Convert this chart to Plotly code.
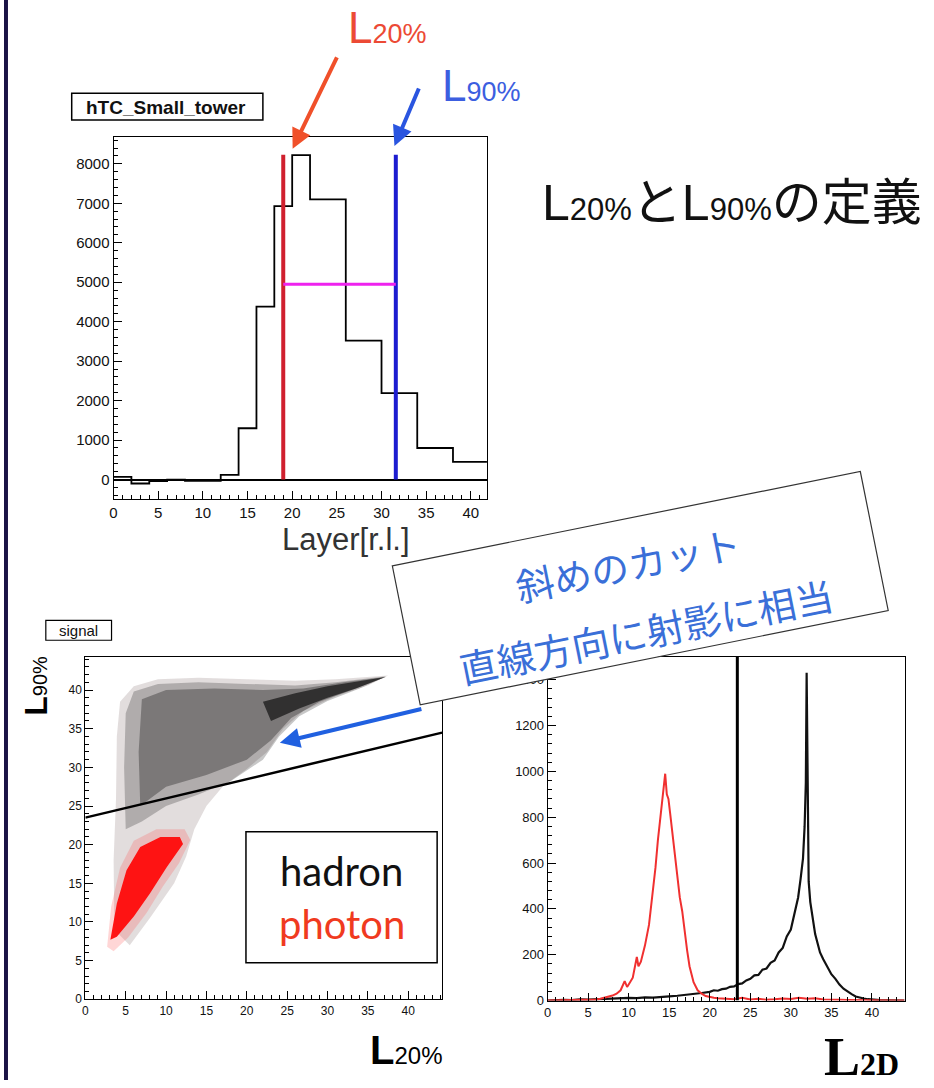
import plotly.graph_objects as go

W, H = 934, 1088
def px(x): return x / W
def py(y): return 1 - y / H

# ---------------- data: longitudinal profile (top) ----------------
layer_edges = [0, 2, 4, 6, 8, 10, 12, 14, 16, 18, 20, 22, 26, 30, 34, 38, 42]
layer_counts = [70, -100, -40, -5, -30, -30, 120, 1300, 4380, 6930, 8220, 7100, 3520, 2190, 800, 450]
L20_value = 19.0
L90_value = 31.6
half_level = 4950
marker_top = 8230

# ---------------- data: L20 vs L90 scatter regions (bottom left) ----------------
cut_x = [0, 44.2]
cut_y = [23.5, 34.5]

hadron_sparse_x = [3.6, 3.5, 3.8, 3.9, 4.3, 6, 9, 14, 20, 26, 31, 37.5, 35, 31, 27, 24.5, 22.5, 20, 17, 15, 13.5, 12.5, 11, 8, 5.5]
hadron_sparse_y = [9, 18, 26, 34, 38.5, 40.5, 41.4, 41.6, 41.4, 41.2, 41.4, 41.9, 40.6, 39.2, 37.3, 35, 32, 29.8, 27.5, 25, 22, 18.5, 15, 10.5, 7]
hadron_mid_x = [5, 4.8, 5, 6, 9, 14, 20, 26, 31, 37.3, 34, 30, 26.5, 24, 22, 18, 14, 10, 7]
hadron_mid_y = [22, 30, 37, 39.8, 40.8, 41.0, 40.8, 40.6, 41.0, 41.8, 40.2, 38.6, 36.6, 34, 31, 28.2, 26.5, 25, 23]
hadron_core_x = [6.8, 6.6, 7, 10, 16, 22, 27, 32, 37.2, 33, 29, 25.5, 23, 20, 15, 10]
hadron_core_y = [25, 32, 38.8, 40, 40.2, 40, 40.2, 41, 41.7, 40, 38.5, 36.4, 33.5, 31, 29, 27.5]
hadron_tail_x = [22, 26, 30, 34, 37.2, 33.5, 30, 26.5, 23]
hadron_tail_y = [38.5, 39.6, 40.5, 41.2, 41.7, 40.2, 39, 37.6, 36]
photon_halo_x = [2.7, 3.2, 4.3, 6, 8.8, 12.3, 13, 11.6, 9.6, 7.6, 5.3, 3.5]
photon_halo_y = [6.8, 12, 17, 20.5, 22, 22, 20.6, 17.6, 14.6, 11.2, 8, 6.2]
photon_core_x = [3.1, 3.9, 5.1, 6.8, 9.3, 11.7, 12.1, 10.1, 8, 6, 3.9]
photon_core_y = [7.7, 12.4, 16.7, 19.7, 21, 21, 20.1, 17.1, 13.7, 10.7, 8.1]

# ---------------- data: L2D distributions (bottom right) ----------------
hadron_l2d_x = [0, 1, 2, 3, 4, 5, 6, 7, 8, 9, 10, 11, 12, 13, 14, 15, 16, 17, 18, 19, 20, 20.5, 21, 21.5, 22,
                22.5, 23, 23.5, 24, 24.5, 25, 25.5, 26, 26.5, 27, 27.5, 28, 28.5, 29, 29.5, 30, 30.3, 30.6,
                30.9, 31.2, 31.5, 31.7, 31.85, 31.95, 32.05, 32.2, 32.4, 32.7, 33, 33.3, 33.6, 34, 34.5, 35,
                35.5, 36, 36.5, 37, 37.5, 38, 38.5, 39, 39.5, 40, 41, 42, 43, 44]
hadron_l2d_y = [0, 2, 3, 2, 5, 4, 6, 8, 7, 10, 12, 11, 14, 13, 17, 18, 21, 24, 27, 33, 38, 45, 43, 50, 52,
                60, 62, 72, 75, 88, 95, 110, 112, 135, 140, 165, 175, 210, 230, 280, 310, 360, 400,
                450, 530, 620, 760, 950, 1430, 1000, 520, 430, 350, 290, 250, 210, 180, 150, 115,
                95, 70, 52, 38, 28, 18, 12, 9, 6, 4, 2, 1, 0, 0]
photon_l2d_x = [0, 1, 2, 3, 4, 5, 6, 6.5, 7, 7.5, 8, 8.5, 9, 9.5, 9.8, 10, 10.5, 11, 11.2, 11.5, 12, 12.5,
                13, 13.3, 13.6, 13.9, 14.2, 14.5, 14.7, 14.9, 15.1, 15.4, 15.7, 16, 16.3, 16.6, 16.9,
                17.2, 17.5, 17.8, 18, 18.5, 19, 19.5, 20, 20.5, 21, 22, 23, 24, 25, 26, 27, 28, 29, 30,
                31, 32, 33, 34, 35, 36, 37, 38, 39, 40, 41, 42, 43, 44]
photon_l2d_y = [0, 1, 0, 2, 1, 3, 5, 8, 12, 15, 22, 30, 45, 85, 60, 70, 100, 190, 150, 170, 240, 330,
                480, 580, 700, 790, 880, 990, 900, 880, 820, 720, 620, 550, 450, 390, 300,
                220, 150, 100, 80, 45, 30, 20, 15, 12, 10, 8, 6, 12, 5, 8, 4, 6, 9, 7,
                12, 8, 10, 5, 6, 4, 3, 2, 1, 1, 0, 0, 0, 0]
L2D_cut = 23.4

# ---------------- figure ----------------
fig = go.Figure()

# top histogram
fig.add_trace(go.Scatter(x=layer_edges, y=layer_counts + [layer_counts[-1]], mode="lines",
                         line=dict(shape="hv", color="black", width=1.8), xaxis="x", yaxis="y"))
fig.add_trace(go.Scatter(x=[L20_value, L20_value], y=[0, marker_top], mode="lines",
                         line=dict(color="#d0202e", width=4), xaxis="x", yaxis="y"))
fig.add_trace(go.Scatter(x=[L90_value, L90_value], y=[0, marker_top], mode="lines",
                         line=dict(color="#1c1cd0", width=4), xaxis="x", yaxis="y"))
fig.add_trace(go.Scatter(x=[L20_value, L90_value], y=[half_level, half_level], mode="lines",
                         line=dict(color="#ee22ee", width=3), xaxis="x", yaxis="y"))

# scatter regions
def region(xs, ys, color):
    fig.add_trace(go.Scatter(x=xs + [xs[0]], y=ys + [ys[0]], mode="lines", fill="toself",
                             fillcolor=color, line=dict(width=0), xaxis="x2", yaxis="y2",
                             hoverinfo="skip"))

region(hadron_sparse_x, hadron_sparse_y, "rgba(60,30,30,0.15)")
region(hadron_mid_x, hadron_mid_y, "rgba(0,0,0,0.22)")
region(hadron_core_x, hadron_core_y, "rgba(0,0,0,0.30)")
region(hadron_tail_x, hadron_tail_y, "rgba(0,0,0,0.60)")
region(photon_halo_x, photon_halo_y, "rgba(255,70,70,0.22)")
region(photon_core_x, photon_core_y, "rgba(255,10,10,0.95)")
fig.add_trace(go.Scatter(x=cut_x, y=cut_y, mode="lines", line=dict(color="black", width=2.5),
                         xaxis="x2", yaxis="y2"))

# L2D histograms
fig.add_trace(go.Scatter(x=hadron_l2d_x, y=hadron_l2d_y, mode="lines",
                         line=dict(color="#111111", width=2.2), xaxis="x3", yaxis="y3"))
fig.add_trace(go.Scatter(x=photon_l2d_x, y=photon_l2d_y, mode="lines",
                         line=dict(color="#f03030", width=2.0), xaxis="x3", yaxis="y3"))
fig.add_trace(go.Scatter(x=[L2D_cut, L2D_cut], y=[0, 1500], mode="lines",
                         line=dict(color="black", width=3), xaxis="x3", yaxis="y3"))

tickfont = lambda s: dict(family="Liberation Sans, Arial", size=s, color="#111")

def ax(domain, rng, dtick, minor, fs, anchor):
    return dict(domain=domain, range=rng, dtick=dtick, tick0=0, ticks="inside", ticklen=8,
                tickcolor="black", showline=True, linecolor="black", linewidth=1, mirror=True,
                showgrid=False, zeroline=False, tickfont=tickfont(fs), anchor=anchor,
                minor=dict(dtick=minor, ticks="inside", ticklen=4, tickcolor="black"))

fig.update_layout(
    width=W, height=H, margin=dict(l=0, r=0, t=0, b=0),
    paper_bgcolor="white", plot_bgcolor="white", showlegend=False,
    xaxis=ax([px(110), px(485)], [0, 41.8], 5, 1, 15, "y"),
    yaxis=ax([py(503), py(138)], [-500, 8680], 1000, 200, 15, "x"),
    xaxis2=ax([px(81.7), px(440)], [0, 44.2], 5, 1, 12, "y2"),
    yaxis2=ax([py(1006.7), py(661.7)], [0, 44.3], 5, 1, 12, "x2"),
    xaxis3=ax([px(546), px(905)], [0, 44.1], 5, 1, 13, "y3"),
    yaxis3=ax([py(1008), py(661.7)], [0, 1500], 200, 40, 13, "x3"),
)
fig.layout.yaxis.zeroline = True
fig.layout.yaxis.zerolinecolor = "black"
fig.layout.yaxis.zerolinewidth = 1.5

shapes = [
    dict(type="rect", xref="paper", yref="paper", x0=0, x1=px(4), y0=0, y1=1,
         fillcolor="#1b1446", line=dict(width=0), layer="below"),
    dict(type="rect", xref="paper", yref="paper", x0=px(68), x1=px(260), y0=py(121), y1=py(94),
         fillcolor="white", line=dict(color="black", width=1.5)),
    dict(type="rect", xref="paper", yref="paper", x0=px(42), x1=px(108), y0=py(645), y1=py(625),
         fillcolor="white", line=dict(color="black", width=1.2)),
    dict(type="rect", xref="paper", yref="paper", x0=px(243), x1=px(435), y0=py(970), y1=py(838),
         fillcolor="white", line=dict(color="black", width=1.5)),
    dict(type="path", xref="paper", yref="paper", fillcolor="white",
         line=dict(color="#333", width=1.2), layer="above",
         path="M {},{} L {},{} L {},{} L {},{} Z".format(px(390), py(570), px(860), py(475),
                                                         px(888), py(615), px(418), py(710))),
]
fig.update_layout(shapes=shapes)

SANS = "Liberation Sans, Arial"
JP = "Liberation Sans, Noto Sans CJK JP"
ann = []
def text(x, y, t, size, color="black", family=SANS, angle=0, **kw):
    d = dict(x=px(x), y=py(y), xref="paper", yref="paper", text=t, showarrow=False,
             font=dict(size=size, color=color, family=family), textangle=angle,
             xanchor="center", yanchor="middle")
    d.update(kw)
    ann.append(d)

# arrows
ann.append(dict(x=L20_value + 1.05, y=8380, xref="x", yref="y", ax=45, ay=-93, text="",
                showarrow=True, arrowhead=2, arrowsize=1, arrowwidth=4, arrowcolor="#f0502a"))
ann.append(dict(x=L90_value - 0.15, y=8450, xref="x", yref="y", ax=25, ay=-59, text="",
                showarrow=True, arrowhead=2, arrowsize=1, arrowwidth=4, arrowcolor="#2a55e0"))
ann.append(dict(x=24.1, y=33.2, xref="x2", yref="y2", ax=143, ay=-34, text="",
                showarrow=True, arrowhead=2, arrowsize=1, arrowwidth=4, arrowcolor="#2060e0"))

text(385, 28, 'L<span style="font-size:27px">20%</span>', 44, "#ec4a35")
text(480, 86, 'L<span style="font-size:27px">90%</span>', 44, "#3c5ee0")
text(731, 205, 'L<span style="font-size:31px">20%</span>とL<span style="font-size:31px">90%</span>の定義',
     50, "#111", JP)
text(163, 108, "<b>hTC_Small_tower</b>", 19, "#111")
text(75, 635, "signal", 15, "#111")
text(343, 543, "Layer[r.l.]", 31, "#333")
text(339, 877, "hadron", 40, "#111", "Lato")
text(339, 931, "photon", 40, "#f03a20", "Lato")
text(627, 568, "斜めのカット", 38, "#3a6fd8", "Noto Sans CJK JP", -11.4)
text(645, 635, "直線方向に射影に相当", 38, "#3a6fd8", "Noto Sans CJK JP", -11.4)
text(32, 691, '<b>L</b><span style="font-size:20px">90%</span>', 32, "black", SANS, -90)
text(404, 1058, '<b>L</b><span style="font-size:24px">20%</span>', 40, "black")
text(861, 1065, '<b>L<span style="font-size:32px">2D</span></b>', 54, "black",
     "Liberation Serif, Times New Roman")

fig.update_layout(annotations=ann)
fig.write_html("out.html")
